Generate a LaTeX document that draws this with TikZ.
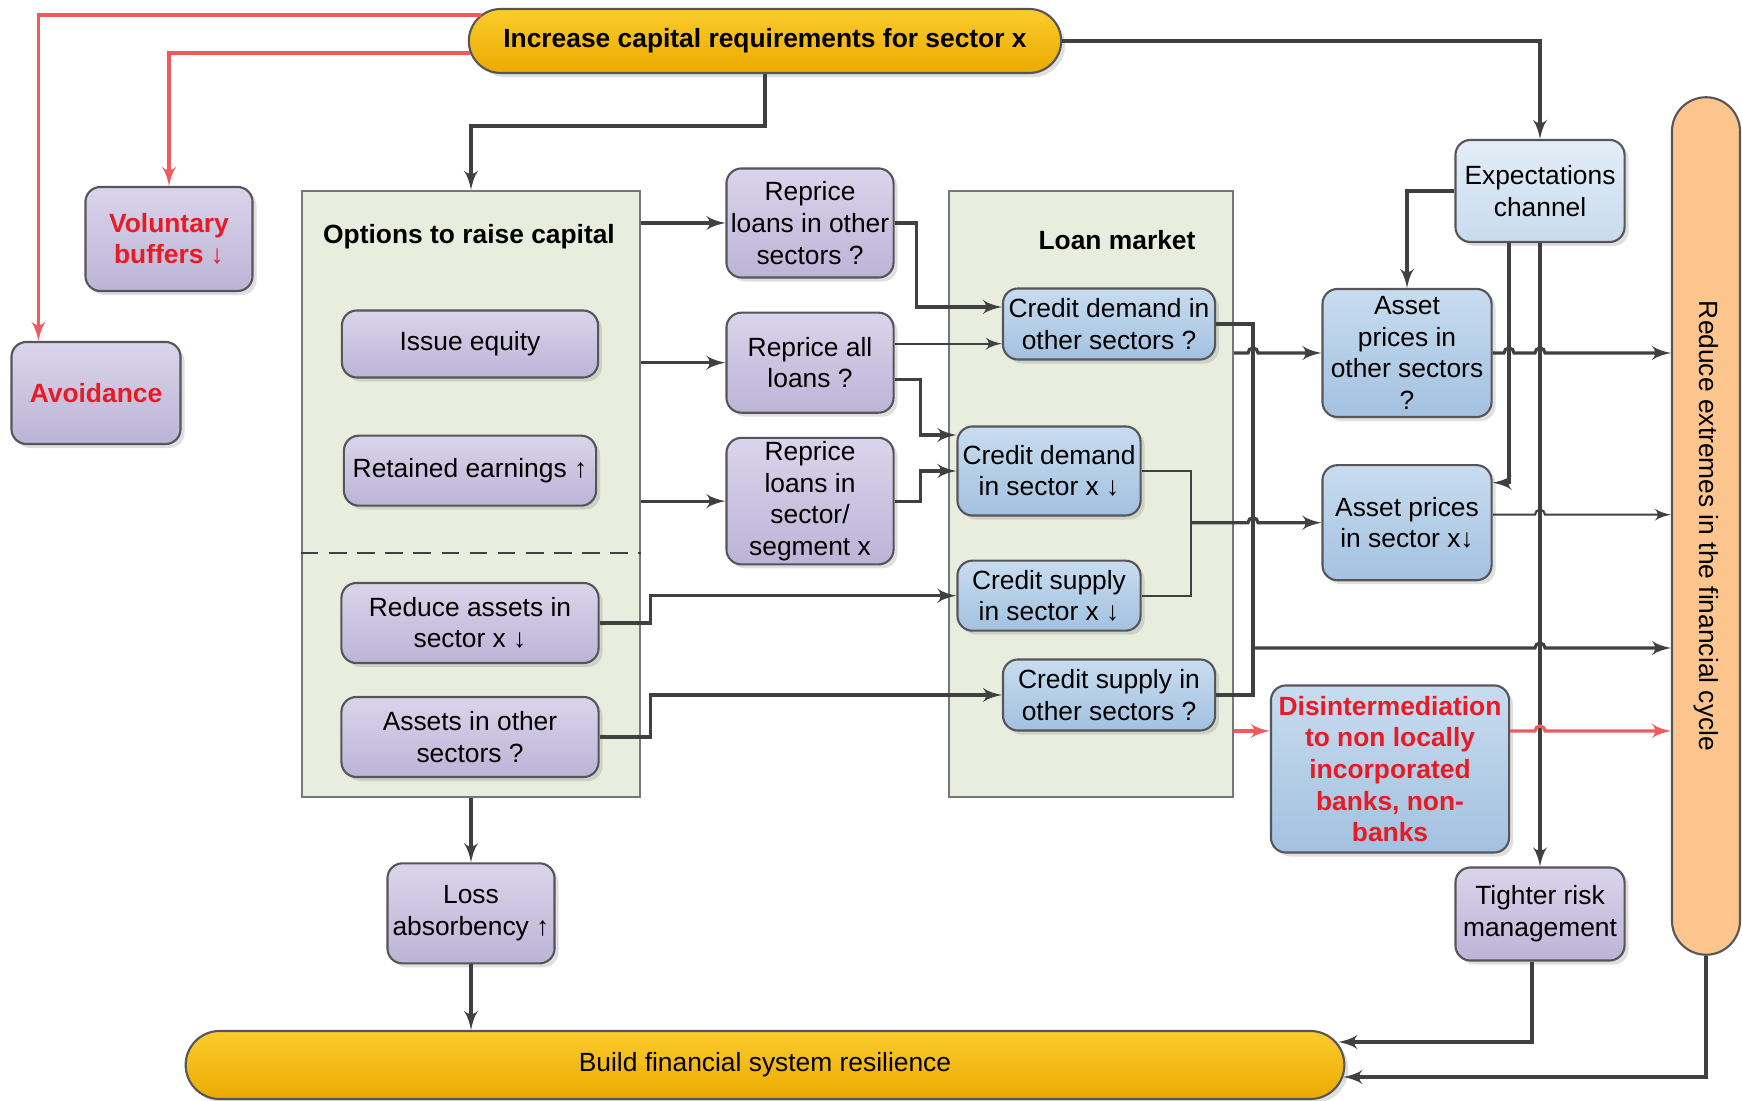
\documentclass[tikz,border=0pt]{standalone}
\usepackage{fontspec}
\setmainfont{Liberation Sans}
\usepackage{tikz}
\usetikzlibrary{arrows,shadows,positioning}

\definecolor{lineclr}{RGB}{64,64,64}
\definecolor{boxline}{RGB}{85,85,90}
\definecolor{purtop}{RGB}{218,212,235}
\definecolor{purbot}{RGB}{188,180,214}
\definecolor{blutop}{RGB}{200,220,239}
\definecolor{blubot}{RGB}{163,193,224}
\definecolor{exptop}{RGB}{228,237,247}
\definecolor{expbot}{RGB}{200,219,238}
\definecolor{paneclr}{RGB}{233,237,222}
\definecolor{goldtop}{RGB}{252,204,45}
\definecolor{goldbot}{RGB}{234,170,0}
\definecolor{orangeclr}{RGB}{253,197,142}
\definecolor{redline}{RGB}{240,90,92}
\definecolor{redtext}{RGB}{232,26,36}

\tikzset{
    box/.style={draw=boxline, line width=0.6pt, rounded corners=0.15cm, align=center, inner sep=1pt,
        drop shadow={opacity=0.25, shadow xshift=0.04cm, shadow yshift=-0.04cm}},
    purpbox/.style={box, top color=purtop, bottom color=purbot},
    bluebox/.style={box, top color=blutop, bottom color=blubot},
    expbox/.style={box, top color=exptop, bottom color=expbot},
    panel/.style={draw=boxline!80, line width=0.6pt, fill=paneclr},
    paneltitle/.style={font=\fontsize{7.5}{9}\selectfont\bfseries},
    pill/.style={draw=boxline, line width=0.6pt, top color=goldtop, bottom color=goldbot, align=center,
        drop shadow={opacity=0.25, shadow xshift=0.04cm, shadow yshift=-0.04cm}},
    redbold/.style={text=redtext, font=\fontsize{7.5}{9}\selectfont\bfseries},
    arr/.style={->, draw=lineclr, line width=0.9pt},
    thinarr/.style={->, draw=lineclr, line width=0.6pt},
    conn/.style={draw=lineclr, line width=0.9pt},
    thinconn/.style={draw=lineclr, line width=0.6pt},
    redarr/.style={->, draw=redline, line width=0.9pt},
    hop/.style={insert path={-- ([xshift=-0.05cm]#1) arc[start angle=180, end angle=0, radius=0.05cm]}},
}

\begin{document}
\begin{tikzpicture}[x=0.01cm, y=-0.01cm, >=latex', every node/.style={font=\fontsize{7.5}{9}\selectfont}]
    \useasboundingbox (0,0) rectangle (1742,1101);

    % Panels
    \node [panel, minimum width=3.38cm, minimum height=6.06cm]  (opt)      at (471,494)   {};
    \node [panel, minimum width=2.84cm, minimum height=6.06cm]  (lm)       at (1091,494)  {};
    \node [paneltitle]                                          (opttitle) at (469,237)   {Options to raise capital};
    \node [paneltitle]                                          (lmtitle)  at (1117,240)  {Loan market};
    \coordinate (dsh) at (0,553);
    \draw [lineclr, line width=0.8pt, dash pattern=on 5pt off 3pt] (opt.west |- dsh) -- (opt.east |- dsh);

    % Pills
    \node [pill, rounded corners=0.32cm, minimum width=5.92cm, minimum height=0.64cm,
           font=\fontsize{7.5}{9}\selectfont\bfseries]          (inc)  at (765,41)    {Increase capital requirements for sector x};
    \node [pill, rounded corners=0.34cm, minimum width=11.58cm, minimum height=0.68cm]
                                                                (bld)  at (765,1065)  {Build financial system resilience};
    \node [draw=boxline, line width=0.6pt, fill=orangeclr, rounded corners=0.34cm,
           minimum width=0.68cm, minimum height=8.57cm]         (rdx)  at (1706,526)  {};
    \node [rotate=-90]                                          (rdxtext) at (rdx)    {Reduce extremes in the financial cycle};

    % Nodes {vol, avoid, ise, ret, rda, aos, etc}
    \node [purpbox, redbold, minimum width=1.67cm, minimum height=1.04cm] (vol)   at (169,239)  {Voluntary\\buffers ↓};
    \node [purpbox, redbold, minimum width=1.69cm, minimum height=1.02cm] (avoid) at (96,393)   {Avoidance};
    \node [purpbox, minimum width=2.56cm, minimum height=0.67cm]          (ise)   at (470,344)  {Issue equity};
    \node [purpbox, minimum width=2.52cm, minimum height=0.70cm]          (ret)   [below=0.56cm of ise] {Retained earnings ↑};
    \node [purpbox, minimum width=2.57cm, minimum height=0.80cm]          (rda)   at (470,623)  {Reduce assets in\\sector x ↓};
    \node [purpbox, minimum width=2.57cm, minimum height=0.80cm]          (aos)   at (470,737)  {Assets in other\\sectors ?};
    \node [purpbox, minimum width=1.67cm, minimum height=1.00cm]          (loss)  [below=0.64cm of opt] {Loss\\absorbency ↑};

    \node [purpbox, minimum width=1.67cm, minimum height=1.09cm]          (rpo)   at (810,223)  {Reprice\\loans in other\\sectors ?};
    \node [purpbox, minimum width=1.67cm, minimum height=1.00cm]          (rpa)   [below=0.33cm of rpo] {Reprice all\\loans ?};
    \node [purpbox, minimum width=1.67cm, minimum height=1.22cm]          (rps)   [below=0.23cm of rpa] {Reprice\\loans in\\sector/\\segment x};

    \node [bluebox, minimum width=2.12cm, minimum height=0.71cm]          (cdo)   at (1109,324) {Credit demand in\\other sectors ?};
    \node [bluebox, minimum width=1.83cm, minimum height=0.89cm]          (cdx)   at (1049,471) {Credit demand\\in sector x ↓};
    \node [bluebox, minimum width=1.83cm, minimum height=0.70cm]          (csx)   [below=0.43cm of cdx] {Credit supply\\in sector x ↓};
    \node [bluebox, minimum width=2.12cm, minimum height=0.71cm]          (cso)   at (1109,695) {Credit supply in\\other sectors ?};

    \node [expbox, minimum width=1.69cm, minimum height=1.02cm]           (exp)   at (1540,191) {Expectations\\channel};
    \node [bluebox, minimum width=1.69cm, minimum height=1.28cm]          (apo)   at (1407,353) {Asset\\prices in\\other sectors\\?};
    \node [bluebox, minimum width=1.69cm, minimum height=1.15cm]          (apx)   [below=0.46cm of apo] {Asset prices\\in sector x↓};
    \node [bluebox, redbold, minimum width=2.38cm, minimum height=1.67cm] (dis)   at (1390,769) {Disintermediation\\to non locally\\incorporated\\banks, non-\\banks};
    \node [purpbox, minimum width=1.69cm, minimum height=0.93cm]          (trm)   at (1540,914) {Tighter risk\\management};

    % Helper coordinates
    \coordinate (vA) at (1253,0);
    \coordinate (vB) at (1191,0);
    \coordinate (vC) at ([xshift=-0.31cm]exp.south);
    \coordinate (j1) at (1253,648);
    \coordinate (rpaU) at ([yshift=0.19cm]rpa.east);
    \coordinate (apxo) at ([yshift=0.08cm]apx.east);
    \coordinate (dIn)  at ([yshift=0.38cm]dis.west);
    \coordinate (dOut) at ([yshift=0.38cm]dis.east);
    \coordinate (h1) at (vA |- apo.west);
    \coordinate (h2) at (vA |- apx.west);
    \coordinate (h3) at (exp.south |- j1);
    \coordinate (h4) at (vC |- apo.east);
    \coordinate (h5) at (exp.south |- apo.east);
    \coordinate (h6) at (exp.south |- apxo);
    \coordinate (h7) at (exp.south |- dOut);

    % Paths
    \draw [redarr]  ([xshift=0.13cm, yshift=0.26cm]inc.west) -| ([xshift=0.28cm]avoid.north west);
    \draw [redarr]  ([xshift=0.02cm, yshift=-0.12cm]inc.west) -| (vol.north);
    \draw [arr]     (inc.south) -- ++(0,52) -| (opt.north);
    \draw [arr]     (inc.east) -| (exp.north);

    \path (opt.east |- rpo.west) edge [arr] (rpo.west);
    \path (opt.east |- rpa.west) edge [arr] (rpa.west);
    \path (opt.east |- rps.west) edge [arr] (rps.west);
    \path (opt.south)            edge [arr] (loss.north);
    \path (loss.south)           edge [arr] (loss.south |- bld.north);

    \draw [arr]     (rpo.east) -- ++(22,0) |- ([yshift=0.17cm]cdo.west);
    \draw [thinarr] (rpaU) -- (cdo.west |- rpaU);
    \draw [arr]     ([yshift=-0.17cm]rpa.east) -- ++(26,0) |- ([yshift=0.36cm]cdx.west);
    \draw [arr]     (rps.east) -- ++(26,0) |- (cdx.west);
    \draw [arr]     (rda.east) -- ++(51,0) |- (csx.west);
    \draw [arr]     (aos.east) -- ++(51,0) |- (cso.west);

    \draw [conn]     (cdo.east) -| (vA |- cso.east) -- (cso.east);
    \draw [thinconn] (cdx.east) -| (vB |- csx.east) -- (csx.east);
    \draw [arr]     (lm.east |- apo.west) [hop=h1] -- (apo.west);
    \draw [arr]     (vB |- apx.west) [hop=h2] -- (apx.west);
    \draw [arr]     (j1) [hop=h3] -- (rdx.west |- j1);

    \draw [arr]     (exp.west) -| (apo.north);
    \draw [arr]     (vC) |- ([yshift=0.4cm]apx.east);
    \draw [arr]     (exp.south) -- (trm.north);
    \draw [arr]     (apo.east) [hop=h4] [hop=h5] -- (rdx.west |- apo.east);
    \draw [thinarr] (apxo) [hop=h6] -- (rdx.west |- apxo);

    \draw [redarr]  (lm.east |- dIn) -- (dIn);
    \draw [redarr]  (dOut) [hop=h7] -- (rdx.west |- dOut);

    \draw [arr]     ([xshift=-0.08cm]trm.south) |- ([xshift=-0.07cm, yshift=0.23cm]bld.east);
    \draw [arr]     (rdx.south) |- ([xshift=-0.02cm, yshift=-0.12cm]bld.east);
\end{tikzpicture}
\end{document}
